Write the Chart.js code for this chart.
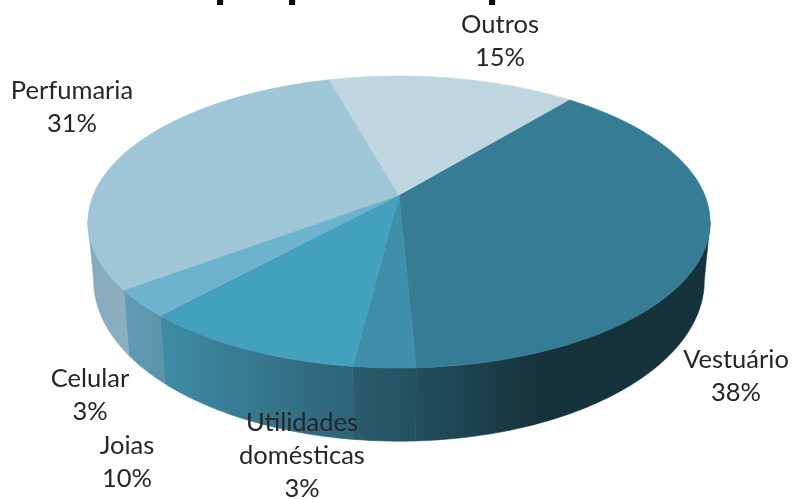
<!DOCTYPE html>
<html>
<head>
<meta charset="utf-8">
<title>Pie</title>
<script src="https://cdn.jsdelivr.net/npm/chart.js@4/dist/chart.umd.min.js"></script>
<style>
  html, body { margin: 0; padding: 0; background: #fff; }
  canvas { display: block; }
</style>
</head>
<body>
<canvas id="pie3d" width="793" height="499"></canvas>
<script>
/* values, clockwise from the 39.5 degree edge */
const categories = ['Vestuário', 'Utilidades domésticas', 'Joias', 'Celular', 'Perfumaria', 'Outros'];
const shares = [38.3, 2.7, 9.8, 3, 30.9, 15.3];

const topColors = ['#367c94', '#3f8fab', '#44a1bd', '#6db3cd', '#9fc6d7', '#bfd6e1'];
// side wall: colour at the left end, colour at the right end, where the right colour is reached
const sideLeft = ['#234f5e', '#2a5c6c', '#3f8ca5', '#5f9cb4', '#86aabb', '#a0b8c4'];
const sideRight = ['#16323c', '#235160', '#2e6378', '#5b94ab', '#8bafbf', '#a0b8c4'];
const sideStop = [0.42, 1, 1, 1, 1, 1];

// label anchors (centre x, first line y)
const labelX = [736, 302, 127, 90, 72, 500];
const labelY = [360, 423, 446, 379, 91, 25];
const lineHeight = 33;

// descenders of the title, all that is left of it inside the frame
const titleGlyphs = ['p', 'p', 'p'];
const titleGlyphX = [214, 286, 486];

// perspective of the disc: top face and bottom face
const topFace = { sx: 305.7, sy: 141, k: 0.185, dy: 0 };
const bottomFace = { sx: 300, sy: 155, k: 0.185, dy: 56 };

function project(arc, face, angle) {
  const u = Math.cos(angle), v = Math.sin(angle);
  const w = 1 - face.k * v;
  return {
    x: arc.x + face.sx * u / w,
    y: arc.y + face.dy + face.sy * v / w
  };
}

function rimPoints(arc, face, from, to) {
  const steps = Math.max(2, Math.ceil(Math.abs(to - from) / 0.015));
  const pts = [];
  for (let i = 0; i <= steps; i++) {
    pts.push(project(arc, face, from + (to - from) * i / steps));
  }
  return pts;
}

function tracePoly(ctx, pts) {
  ctx.beginPath();
  pts.forEach(function(p, i) {
    if (i === 0) ctx.moveTo(p.x, p.y); else ctx.lineTo(p.x, p.y);
  });
  ctx.closePath();
}

const disc3d = {
  id: 'disc3d',
  beforeDatasetDraw: function(chart, args) {
    const ctx = chart.ctx;
    const arcs = chart.getDatasetMeta(args.index).data;
    // the wall is only seen between the two points where the rim turns back
    const edge = Math.asin(topFace.k);

    ctx.save();
    arcs.forEach(function(arc, i) {
      const from = Math.max(arc.startAngle, edge);
      const to = Math.min(arc.endAngle, Math.PI - edge);
      if (to <= from) return;
      const upper = rimPoints(arc, topFace, from, to);
      const lower = rimPoints(arc, bottomFace, to, from);
      const all = upper.concat(lower);
      const xs = all.map(function(p) { return p.x; });
      const grad = ctx.createLinearGradient(Math.min.apply(null, xs), 0, Math.max.apply(null, xs), 0);
      grad.addColorStop(0, sideLeft[i]);
      grad.addColorStop(sideStop[i], sideRight[i]);
      tracePoly(ctx, all);
      ctx.fillStyle = grad;
      ctx.strokeStyle = grad;
      ctx.lineWidth = 0.6;
      ctx.fill();
      ctx.stroke();
    });
    // top face
    arcs.forEach(function(arc) {
      const pts = [{ x: arc.x, y: arc.y }].concat(rimPoints(arc, topFace, arc.startAngle, arc.endAngle));
      tracePoly(ctx, pts);
      ctx.fillStyle = arc.options.backgroundColor;
      ctx.strokeStyle = arc.options.backgroundColor;
      ctx.lineWidth = 0.6;
      ctx.fill();
      ctx.stroke();
    });
    ctx.restore();
    return false;
  },
  afterDraw: function(chart) {
    const ctx = chart.ctx;
    ctx.save();
    ctx.fillStyle = '#262626';
    ctx.font = '25.5px Lato';
    ctx.textAlign = 'center';
    ctx.textBaseline = 'middle';
    categories.forEach(function(name, i) {
      const lines = name.split(' ');
      lines.push(Math.round(shares[i]) + '%');
      lines.forEach(function(line, n) {
        ctx.fillText(line, labelX[i], labelY[i] + n * lineHeight);
      });
    });
    ctx.fillStyle = '#000';
    ctx.font = 'bold 44px "Liberation Sans"';
    ctx.textAlign = 'left';
    ctx.textBaseline = 'alphabetic';
    titleGlyphs.forEach(function(g, i) {
      ctx.fillText(g, titleGlyphX[i], -4);
    });
    ctx.restore();
  }
};

new Chart(document.getElementById('pie3d').getContext('2d'), {
  type: 'pie',
  data: {
    labels: categories,
    datasets: [{
      data: shares,
      backgroundColor: topColors,
      borderWidth: 0
    }]
  },
  options: {
    responsive: false,
    animation: false,
    rotation: 39.5,
    layout: { padding: { left: 5, right: 0, top: 0, bottom: 109 } },
    plugins: {
      legend: { display: false },
      tooltip: { enabled: false }
    }
  },
  plugins: [disc3d]
});
</script>
</body>
</html>
